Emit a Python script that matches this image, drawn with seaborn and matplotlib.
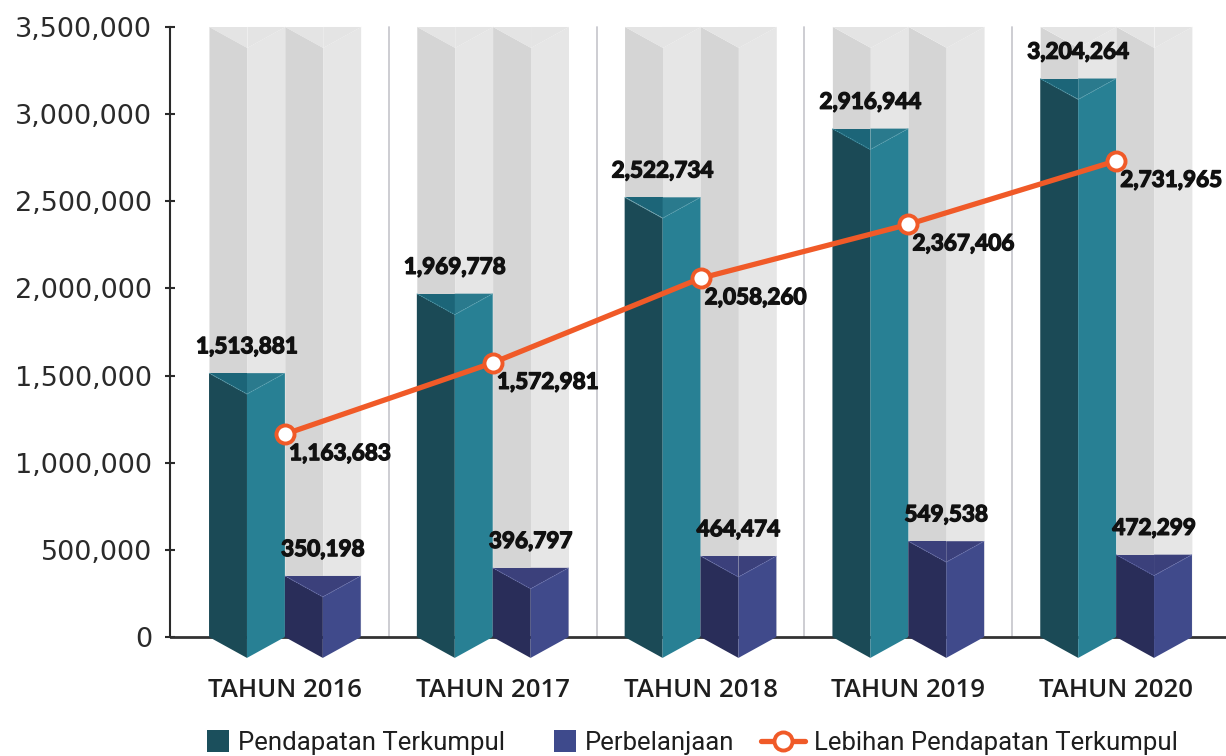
import numpy as np
import pandas as pd
import matplotlib
matplotlib.use("Agg")
import matplotlib.pyplot as plt
import matplotlib.patheffects as pe
import seaborn as sns
from matplotlib.lines import Line2D
from matplotlib.patches import Patch, Rectangle
from matplotlib.legend_handler import HandlerPatch
from matplotlib.ticker import FuncFormatter

# ---------------- data ----------------
years = ["TAHUN 2016", "TAHUN 2017", "TAHUN 2018", "TAHUN 2019", "TAHUN 2020"]
pendapatan = [1513881, 1969778, 2522734, 2916944, 3204264]
perbelanjaan = [350198, 396797, 464474, 549538, 472299]
lebihan = [1163683, 1572981, 2058260, 2367406, 2731965]
y_ticks = [0, 500000, 1000000, 1500000, 2000000, 2500000, 3000000, 3500000]
y_max = 3500000
series_names = ["Pendapatan Terkumpul", "Perbelanjaan", "Lebihan Pendapatan Terkumpul"]

# ---------------- style ----------------
sns.set_theme(style="white")
plt.rcParams["font.family"] = ["DejaVu Sans"]

C_TEAL_L, C_TEAL_R, C_TEAL_TL, C_TEAL_TR = "#1b4a56", "#288094", "#1c6578", "#2a7a8d"
C_NAVY_L, C_NAVY_R, C_NAVY_T = "#292d59", "#404a8b", "#3b407b"
C_GREY_L, C_GREY_R, C_GREY_T = "#d5d5d5", "#e6e6e6", "#e4e4e4"
C_ORANGE = "#f05a28"

W = 0.365        # width of one prism in category units
DROP = 120000    # depth of the prism's front ridge in value units
GAP = 0.004

LABEL_KW = dict(fontsize=16.2, fontweight="bold", family="Lato", color="#111111",
                zorder=6,
                path_effects=[pe.withStroke(linewidth=1.0, foreground="#111111")])

fig = plt.figure(figsize=(12.26, 7.56), dpi=100)
ax = fig.add_axes([0.13866, 0.12037, 0.86134, 0.85582])
ax.set_xlim(-0.5529, 4.5288)
ax.set_ylim(-160650, 3551600)

pos = np.arange(len(years))


def prism(x0, top, c_left, c_right, c_tl, c_tr, bottom_v=True, z=2, edge=None):
    xm = x0 + W / 2
    x1 = x0 + W
    bd = DROP if bottom_v else 0
    ax.fill([x0, xm, xm, x0], [top, top - DROP, -bd, 0], color=c_left, lw=0, zorder=z)
    ax.fill([xm, x1, x1, xm], [top - DROP, top, 0, -bd], color=c_right, lw=0, zorder=z)
    ax.fill([x0, xm, xm], [top, top, top - DROP], color=c_tl, lw=0, zorder=z)
    ax.fill([xm, x1, xm], [top, top, top - DROP], color=c_tr, lw=0, zorder=z)
    if edge is not None:
        ax.plot([x0, xm, x1], [top, top - DROP, top], color=edge, lw=0.6,
                ls=(0, (2, 1)), alpha=0.8, zorder=z + 0.1)


# grey background columns
for i in pos:
    prism(i - W + GAP / 2, y_max, C_GREY_L, C_GREY_R, C_GREY_T, C_GREY_T, bottom_v=False, z=1)
    prism(i + GAP / 2, y_max, C_GREY_L, C_GREY_R, C_GREY_T, C_GREY_T, bottom_v=False, z=1)

# group separators
for i in pos[:-1]:
    ax.plot([i + 0.5, i + 0.5], [0, y_max], color="#c9c9cf", lw=1.3, zorder=0.8)

# baseline
ax.axhline(0, color="#333333", lw=2, zorder=1.5)

# coloured prisms
for i, v in zip(pos, pendapatan):
    prism(i - W, v, C_TEAL_L, C_TEAL_R, C_TEAL_TL, C_TEAL_TR, z=2, edge="#5fa9ba")
    ax.annotate(f"{v:,}", (i - W / 2, v), xytext=(0, 19), textcoords="offset points",
                ha="center", va="center", **LABEL_KW)
for i, v in zip(pos, perbelanjaan):
    prism(i, v, C_NAVY_L, C_NAVY_R, C_NAVY_T, C_NAVY_T, z=2, edge="#6f78b8")
    ax.annotate(f"{v:,}", (i + W / 2, v), xytext=(0, 19), textcoords="offset points",
                ha="center", va="center", **LABEL_KW)

# line
sns.lineplot(x=pos, y=lebihan, ax=ax, color=C_ORANGE, lw=3.8, marker="o",
             markersize=13, markerfacecolor="white", markeredgecolor=C_ORANGE,
             markeredgewidth=2.8, zorder=4, legend=False)
for i, v in zip(pos, lebihan):
    ax.annotate(f"{v:,}", (i, v), xytext=(3, -14), textcoords="offset points",
                ha="left", va="center", **LABEL_KW)

# axes styling
for s in ["top", "right", "bottom"]:
    ax.spines[s].set_visible(False)
ax.spines["left"].set_color("#2a2a2a")
ax.spines["left"].set_linewidth(1.5)
ax.spines["left"].set_bounds(0, y_max)
ax.spines["left"].set_zorder(3)

ax.set_yticks(y_ticks)
ax.yaxis.set_major_formatter(FuncFormatter(lambda v, p: f"{int(v):,}"))
ax.tick_params(axis="y", direction="inout", length=7, width=1.5, color="#2a2a2a",
               pad=9.5, labelsize=19.5, labelcolor="#2a2a2a", left=True)
ax.set_xticks(pos)
ax.set_xticklabels(years, fontsize=18.5, color="#1e1e1e", family="Open Sans",
                   fontweight="semibold")
ax.tick_params(axis="x", length=0, pad=9)
ax.set_xlabel("")
ax.set_ylabel("")
ax.grid(False)
ax.set_facecolor("none")


class SquareHandler(HandlerPatch):
    def create_artists(self, legend, orig_handle, xdescent, ydescent, width, height,
                       fontsize, trans):
        side = 15.8
        p = Rectangle((width - side - xdescent, height / 2 - side / 2 - ydescent),
                      side, side)
        self.update_prop(p, orig_handle, legend)
        p.set_transform(trans)
        return [p]


handles = [
    Patch(facecolor="#1b4f5c", edgecolor="none"),
    Patch(facecolor="#3e4a8c", edgecolor="none"),
    Line2D([0], [0], color=C_ORANGE, lw=3.8, marker="o", markersize=13,
           markerfacecolor="white", markeredgecolor=C_ORANGE, markeredgewidth=2.8),
]
leg = fig.legend(handles, series_names, loc="center", bbox_to_anchor=(0.556, 0.0175),
                 ncol=3, frameon=False, prop={"family": "Roboto", "size": 18.5},
                 handlelength=1.7, handletextpad=0.35, columnspacing=1.05,
                 handler_map={Patch: SquareHandler()})
for t in leg.get_texts():
    t.set_color("#1e1e1e")

fig.savefig("out.png", dpi=100)
